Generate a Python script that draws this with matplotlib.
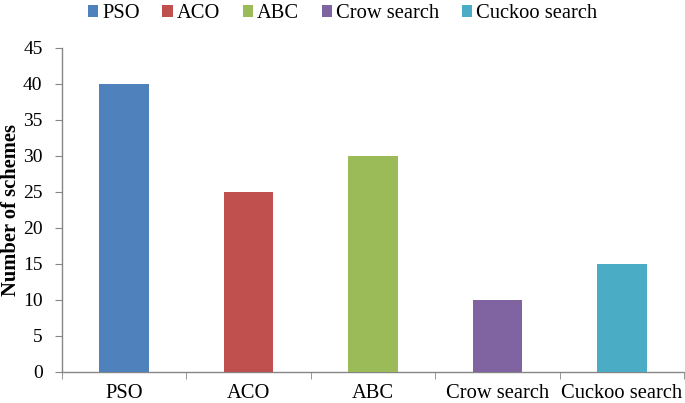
import matplotlib
matplotlib.use("Agg")
import matplotlib.pyplot as plt
import numpy as np

categories = ["PSO", "ACO", "ABC", "Crow search", "Cuckoo search"]
values = [40, 25, 30, 10, 15]
colors = ["#4F81BD", "#C0504D", "#9BBB59", "#8064A2", "#4BACC6"]
yticks = [0, 5, 10, 15, 20, 25, 30, 35, 40, 45]

plt.rcParams['font.family'] = 'serif'
plt.rcParams['font.serif'] = ['Liberation Serif', 'DejaVu Serif']
FONT = 'Liberation Serif'

fig = plt.figure(figsize=(6.85, 4.03), dpi=100)
ax = fig.add_axes([62/685, 31/403, 622/685, 324/403])

x = np.arange(len(categories))
handles = []
for i, (c, v, col) in enumerate(zip(categories, values, colors)):
    b = ax.bar(x[i], v, width=0.4, color=col, label=c, zorder=3)
    handles.append(b)

ax.set_xlim(-0.5, len(categories) - 0.5)
ax.set_ylim(0, 45)
ax.set_yticks(yticks)
ax.set_yticklabels([str(t) for t in yticks], fontsize=14, family=FONT)
ax.set_xticks(x)
ax.set_xticklabels(categories, fontsize=14.8, family=FONT)
ax.tick_params(axis='x', length=0, pad=9)
ax.set_xticks(np.arange(-0.5, len(categories)), minor=True)
ax.tick_params(axis='x', which='minor', length=5, color='#868686', direction='out')
ax.tick_params(axis='y', length=5, color='#868686', direction='out', pad=9)

for s in ['top', 'right']:
    ax.spines[s].set_visible(False)
for s in ['left', 'bottom']:
    ax.spines[s].set_color('#868686')
    ax.spines[s].set_linewidth(1.0)

ax.set_ylabel("Number of schemes", fontsize=14.8, fontweight='bold', family=FONT)
ax.yaxis.set_label_coords(-0.066, 0.5)

fig.legend(handles=handles, labels=categories, loc='upper center',
           bbox_to_anchor=(0.5, 1.035), ncol=5, frameon=False,
           prop={'family': FONT, 'size': 14.8}, handlelength=0.5, handleheight=0.5,
           handletextpad=0.2, columnspacing=1.1)

fig.savefig("out.png", dpi=100)
